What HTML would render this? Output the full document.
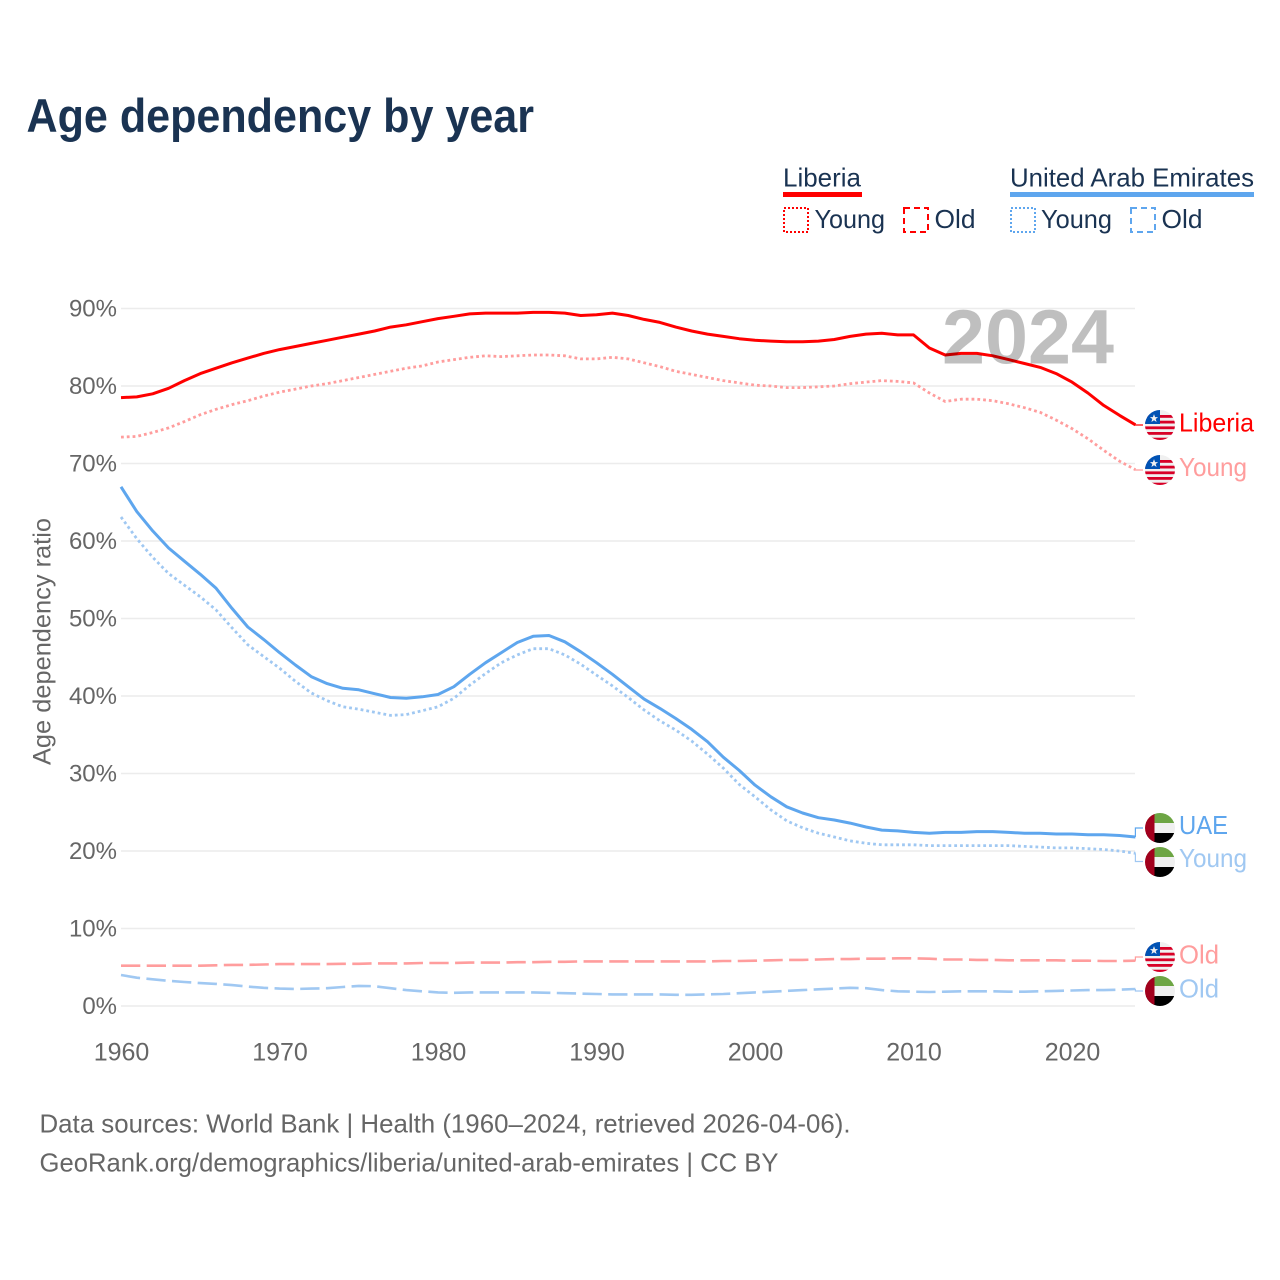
<!DOCTYPE html>
<html lang="en">
<head>
<meta charset="utf-8">
<title>Age dependency by year</title>
<style>
html,body{margin:0;padding:0;background:#fff;width:1280px;height:1280px;overflow:hidden}
svg{display:block;font-family:"Liberation Sans",sans-serif}
</style>
</head>
<body>
<svg id="chart" xmlns="http://www.w3.org/2000/svg" width="1280" height="1280" viewBox="0 0 1280 1280">
<defs>
<clipPath id="flag-clip"><circle cx="0" cy="0" r="15"/></clipPath>
<g id="flag-liberia" clip-path="url(#flag-clip)">
<rect x="-15" y="-15" width="30" height="30" fill="#f0f0f0"/>
<rect x="-15" y="-10" width="30" height="2.8" fill="#d80027"/>
<rect x="-15" y="-4.3" width="30" height="2.8" fill="#d80027"/>
<rect x="-15" y="1.4" width="30" height="2.8" fill="#d80027"/>
<rect x="-15" y="7" width="30" height="2.8" fill="#d80027"/>
<rect x="-15" y="12.7" width="30" height="2.8" fill="#d80027"/>
<rect x="-15" y="-15" width="15" height="14" fill="#0052b4"/>
<polygon transform="translate(0.5,1.6)" points="-6.5,-12.5 -5.4,-9.5 -2.4,-9.5 -4.8,-7.6 -3.9,-4.6 -6.5,-6.4 -9.1,-4.6 -8.2,-7.6 -10.6,-9.5 -7.6,-9.5" fill="#f0f0f0"/>
</g>
<g id="flag-uae" clip-path="url(#flag-clip)">
<rect x="-15" y="-15" width="30" height="10" fill="#6da544"/>
<rect x="-15" y="-5" width="30" height="10" fill="#f0f0f0"/>
<rect x="-15" y="5" width="30" height="10" fill="#000"/>
<rect x="-15" y="-15" width="9.5" height="30" fill="#a2001d"/>
</g>
</defs>

<rect x="0" y="0" width="1280" height="1280" fill="#fff"/>
<text x="26.5" y="132" font-size="47" font-weight="700" fill="#1a3352" textLength="507.5" lengthAdjust="spacingAndGlyphs">Age dependency by year</text>

<g font-size="26" fill="#1a3352">
<text x="783" y="186.5" textLength="78" lengthAdjust="spacingAndGlyphs">Liberia</text>
<rect x="783" y="192" width="79" height="5" fill="#ff0000"/>
<rect x="784" y="208" width="24" height="24" fill="none" stroke="#ff0000" stroke-width="2" stroke-dasharray="2 2"/>
<text x="814.5" y="228" textLength="70.5" lengthAdjust="spacingAndGlyphs">Young</text>
<rect x="904" y="208" width="24" height="24" fill="none" stroke="#ff0000" stroke-width="2" stroke-dasharray="6 4"/>
<text x="934.5" y="228" textLength="41" lengthAdjust="spacingAndGlyphs">Old</text>
<text x="1010" y="186.5" textLength="244" lengthAdjust="spacingAndGlyphs">United Arab Emirates</text>
<rect x="1010" y="192" width="244" height="5" fill="#5ea6ee"/>
<rect x="1011" y="208" width="24" height="24" fill="none" stroke="#5ea6ee" stroke-width="2" stroke-dasharray="2 2"/>
<text x="1041" y="228" textLength="71" lengthAdjust="spacingAndGlyphs">Young</text>
<rect x="1131" y="208" width="24" height="24" fill="none" stroke="#5ea6ee" stroke-width="2" stroke-dasharray="6 4"/>
<text x="1161.5" y="228" textLength="41" lengthAdjust="spacingAndGlyphs">Old</text>
</g>

<g id="grid"></g>
<g id="yticks"></g>
<g id="xticks"></g>
<text transform="translate(50.5,765) rotate(-90)" font-size="25" fill="#666" textLength="247" lengthAdjust="spacingAndGlyphs">Age dependency ratio</text>
<g id="series"></g>
<text x="942" y="363.5" font-size="77" font-weight="700" fill="#000" fill-opacity="0.25" textLength="172" lengthAdjust="spacingAndGlyphs">2024</text>

<g font-size="26">
<use href="#flag-liberia" x="1160" y="425"/>
<text x="1179" y="431.5" fill="#ff0000" textLength="75" lengthAdjust="spacingAndGlyphs">Liberia</text>
<use href="#flag-liberia" x="1160" y="470"/>
<text x="1179" y="476" fill="#ff9d9d" textLength="68" lengthAdjust="spacingAndGlyphs">Young</text>
<use href="#flag-uae" x="1160" y="828"/>
<text x="1179" y="834" fill="#5ea6ee" textLength="49" lengthAdjust="spacingAndGlyphs">UAE</text>
<use href="#flag-uae" x="1160" y="862"/>
<text x="1179" y="867" fill="#a0c8f2" textLength="68" lengthAdjust="spacingAndGlyphs">Young</text>
<use href="#flag-liberia" x="1160" y="957"/>
<text x="1179" y="963.5" fill="#ff9d9d" textLength="40" lengthAdjust="spacingAndGlyphs">Old</text>
<use href="#flag-uae" x="1160" y="991"/>
<text x="1179" y="997.5" fill="#a0c8f2" textLength="40" lengthAdjust="spacingAndGlyphs">Old</text>
</g>

<g font-size="26" fill="#666">
<text x="39.5" y="1132.5" textLength="811" lengthAdjust="spacingAndGlyphs">Data sources: World Bank | Health (1960–2024, retrieved 2026-04-06).</text>
<text x="39.5" y="1171.5" textLength="739" lengthAdjust="spacingAndGlyphs">GeoRank.org/demographics/liberia/united-arab-emirates | CC BY</text>
</g>
</svg>

<script>
var years = [
1960,1961,1962,1963,1964,1965,1966,1967,1968,1969,
1970,1971,1972,1973,1974,1975,1976,1977,1978,1979,
1980,1981,1982,1983,1984,1985,1986,1987,1988,1989,
1990,1991,1992,1993,1994,1995,1996,1997,1998,1999,
2000,2001,2002,2003,2004,2005,2006,2007,2008,2009,
2010,2011,2012,2013,2014,2015,2016,2017,2018,2019,
2020,2021,2022,2023,2024];
var liberiaTotal = [
78.5,78.6,79.0,79.7,80.7,81.6,82.3,83.0,83.6,84.2,
84.7,85.1,85.5,85.9,86.3,86.7,87.1,87.6,87.9,88.3,
88.7,89.0,89.3,89.4,89.4,89.4,89.5,89.5,89.4,89.1,
89.2,89.4,89.1,88.6,88.2,87.6,87.1,86.7,86.4,86.1,
85.9,85.8,85.7,85.7,85.8,86.0,86.4,86.7,86.8,86.6,
86.6,84.9,84.0,84.2,84.2,83.9,83.4,82.9,82.4,81.6,
80.5,79.1,77.5,76.2,75.0];
var liberiaYoung = [
73.4,73.5,74.0,74.6,75.4,76.3,77.0,77.6,78.1,78.7,
79.2,79.6,80.0,80.3,80.7,81.1,81.5,81.9,82.3,82.6,
83.1,83.4,83.7,83.9,83.8,83.9,84.0,84.0,83.9,83.5,
83.5,83.7,83.5,83.0,82.5,81.9,81.5,81.1,80.7,80.4,
80.1,80.0,79.8,79.8,79.9,80.0,80.3,80.5,80.7,80.6,
80.4,79.1,78.0,78.3,78.3,78.1,77.7,77.2,76.6,75.6,
74.5,73.2,71.7,70.3,69.2];
var liberiaOld = [
5.2,5.2,5.2,5.2,5.2,5.2,5.25,5.3,5.3,5.35,
5.4,5.4,5.4,5.4,5.45,5.45,5.5,5.5,5.5,5.55,
5.55,5.55,5.6,5.6,5.6,5.65,5.65,5.7,5.7,5.75,
5.75,5.75,5.75,5.75,5.75,5.75,5.75,5.75,5.8,5.8,
5.85,5.9,5.95,5.95,6.0,6.05,6.05,6.1,6.1,6.15,
6.15,6.1,6.0,6.0,5.95,5.95,5.9,5.9,5.9,5.9,
5.85,5.85,5.8,5.8,5.85];
var uaeTotal = [
67.0,63.8,61.3,59.1,57.4,55.7,53.9,51.3,48.9,47.3,
45.6,44.0,42.5,41.6,41.0,40.8,40.3,39.8,39.7,39.9,
40.2,41.2,42.8,44.3,45.6,46.9,47.7,47.8,47.0,45.7,
44.3,42.8,41.2,39.6,38.4,37.1,35.7,34.1,32.1,30.4,
28.5,27.0,25.7,24.9,24.3,24.0,23.6,23.1,22.7,22.6,
22.4,22.3,22.4,22.4,22.5,22.5,22.4,22.3,22.3,22.2,
22.2,22.1,22.1,22.0,21.8];
var uaeYoung = [
63.1,60.3,57.9,55.8,54.3,52.8,51.1,48.8,46.6,45.1,
43.6,41.9,40.4,39.4,38.6,38.3,37.9,37.5,37.6,38.1,
38.6,39.7,41.4,42.9,44.3,45.3,46.1,46.1,45.3,44.1,
42.7,41.3,39.8,38.2,36.8,35.6,34.2,32.5,30.7,28.6,
27.0,25.3,23.9,23.0,22.3,21.8,21.3,21.0,20.8,20.8,
20.8,20.7,20.7,20.7,20.7,20.7,20.7,20.6,20.5,20.4,
20.4,20.3,20.2,20.0,19.7];
var uaeOld = [
4.0,3.65,3.45,3.25,3.1,2.95,2.85,2.7,2.5,2.35,
2.25,2.2,2.25,2.3,2.45,2.6,2.55,2.3,2.05,1.9,
1.75,1.7,1.75,1.75,1.75,1.75,1.75,1.7,1.65,1.6,
1.55,1.5,1.5,1.5,1.5,1.45,1.45,1.5,1.55,1.65,
1.75,1.85,1.95,2.05,2.15,2.25,2.35,2.3,2.05,1.9,
1.85,1.8,1.85,1.9,1.9,1.9,1.85,1.85,1.9,1.95,
2.0,2.05,2.05,2.1,2.2];
var yTickValues = [0,10,20,30,40,50,60,70,80,90];
var yTickLabels = ["0%","10%","20%","30%","40%","50%","60%","70%","80%","90%"];
var xTickValues = [1960,1970,1980,1990,2000,2010,2020];
var xTickLabels = ["1960","1970","1980","1990","2000","2010","2020"];

var NS = 'http://www.w3.org/2000/svg';
function xScale(year){ return 121 + (year - 1960) * (1135.4 - 121) / 64; }
function yScale(v){ return 1006 - v * 7.75; }
function make(tag, parent, attrs){
  var el = document.createElementNS(NS, tag);
  for (var k in attrs) el.setAttribute(k, attrs[k]);
  parent.appendChild(el);
  return el;
}

var gridGroup = document.getElementById('grid');
var yGroup = document.getElementById('yticks');
var xGroup = document.getElementById('xticks');
var seriesGroup = document.getElementById('series');

yTickValues.forEach(function(v, i){
  var line = make('line', gridGroup, {x1:121, x2:1135, y1:yScale(v), y2:yScale(v), stroke:'#ececec', 'stroke-width':1.5});
  
  
  var t = make('text', yGroup, {x:117, y:yScale(v) + 8, 'text-anchor':'end', 'font-size':24, fill:'#666'});
  t.textContent = yTickLabels[i];
  
  
});

xTickValues.forEach(function(v, i){
  var t = make('text', xGroup, {x:xScale(v) + 0.5, y:1060.5, 'text-anchor':'middle', 'font-size':25, fill:'#666'});
  t.textContent = xTickLabels[i];
  
  
});

function drawSeries(values, color, width, dash, labelY, name){
  var pts = values.map(function(v, i){ return xScale(years[i]).toFixed(1) + ',' + yScale(v).toFixed(1); }).join(' ');
  var attrs = {points:pts, fill:'none', stroke:color, 'stroke-width':width, 'stroke-linejoin':'round'};
  if (dash) attrs['stroke-dasharray'] = dash;
  var line = make('polyline', seriesGroup, attrs);
  
  
  var endX = xScale(years[years.length - 1]);
  var endY = yScale(values[values.length - 1]);
  var link = make('path', seriesGroup, {d:'M' + endX.toFixed(1) + ' ' + endY.toFixed(1) + 'V' + labelY + 'H1143', fill:'none', stroke:color, 'stroke-width':1.2});
  
  
}

drawSeries(liberiaOld, '#ff9d9d', 2.6, '19.3 6.4', 957, 'line-liberia-old');
drawSeries(uaeOld, '#a0c8f2', 2.6, '19.3 6.4', 991, 'line-uae-old');
drawSeries(uaeYoung, '#a0c8f2', 2.8, '2.8 3', 861.5, 'line-uae-young');
drawSeries(uaeTotal, '#5ea6ee', 3, '', 828, 'line-uae-total');
drawSeries(liberiaYoung, '#ff9d9d', 2.8, '2.8 3', 470, 'line-liberia-young');
drawSeries(liberiaTotal, '#ff0000', 3, '', 425, 'line-liberia-total');
</script>
</body>
</html>
